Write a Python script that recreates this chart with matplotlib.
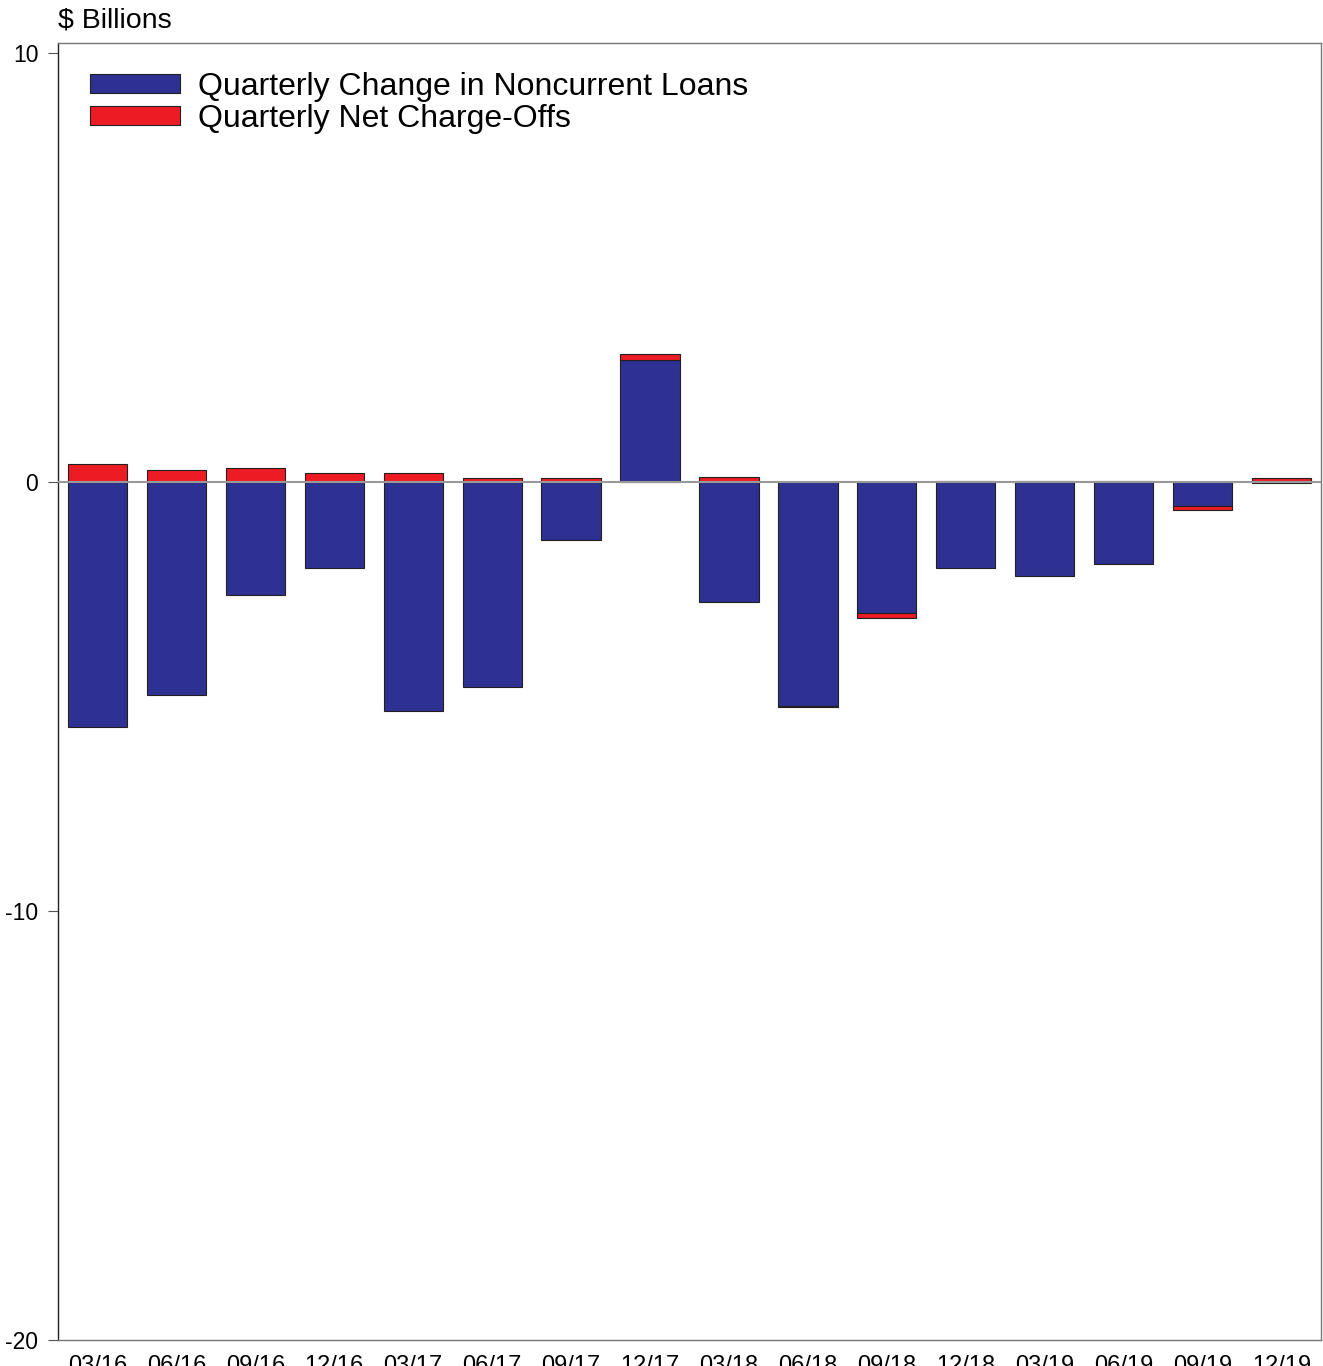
import numpy as np
import matplotlib

matplotlib.use("Agg")
import matplotlib.pyplot as plt

plt.rcParams["font.family"] = ["Liberation Sans", "DejaVu Sans"]

quarters = ["03/16", "06/16", "09/16", "12/16", "03/17", "06/17", "09/17", "12/17",
            "03/18", "06/18", "09/18", "12/18", "03/19", "06/19", "09/19", "12/19"]
noncurrent_change = [-5.71, -4.97, -2.63, -2.00, -5.34, -4.78, -1.35, 2.84,
                     -2.80, -5.22, -3.05, -2.00, -2.19, -1.91, -0.57, -0.03]
net_chargeoffs = [0.42, 0.28, 0.33, 0.21, 0.21, 0.09, 0.08, 0.14,
                  0.12, -0.03, -0.12, 0.03, 0.03, 0.01, -0.09, 0.08]
y_ticks = [-20, -10, 0, 10]

BLUE = "#2E3192"
RED = "#ED1C24"
EDGE = "#231F20"

W, H = 1323, 1366
fig = plt.figure(figsize=(W / 100, H / 100), dpi=100)
ax = fig.add_axes([58 / W, 26 / H, (1321 - 58) / W, (1340 - 43) / H])

x = np.arange(len(quarters))
blue = np.array(noncurrent_change)
red = np.array(net_chargeoffs)
# red stacks onto the blue bar when both share a sign, otherwise starts at zero
red_bottom = np.where(np.sign(red) == np.sign(blue), blue, 0.0)

ax.bar(x, blue, width=0.75, color=BLUE, edgecolor=EDGE, linewidth=0.8,
       label="Quarterly Change in Noncurrent Loans", zorder=2)
ax.bar(x, red, width=0.75, bottom=red_bottom, color=RED, edgecolor=EDGE, linewidth=0.8,
       label="Quarterly Net Charge-Offs", zorder=2)
ax.axhline(0, color="#999999", lw=1.5, zorder=3)

ax.set_xlim(-0.5, 15.5)
ax.set_ylim(-20, 10.23)
ax.set_yticks(y_ticks)
ax.set_yticklabels([str(v) for v in y_ticks])
ax.set_xticks(x)
ax.set_xticklabels(quarters)
ax.tick_params(axis="y", length=7.2, width=0.8, color="#555555", pad=7, labelsize=16.5)
ax.tick_params(axis="x", length=0, pad=11, labelsize=17)

for side in ["top", "right", "bottom"]:
    ax.spines[side].set_color("#777777")
    ax.spines[side].set_linewidth(1.0)
ax.spines["left"].set_color("#222222")
ax.spines["left"].set_linewidth(1.0)

leg = ax.legend(loc="upper left", bbox_to_anchor=(32 / 1263, 1 - 29 / 1297),
                frameon=False, fontsize=23, handlelength=2.82, handleheight=0.53,
                handletextpad=0.56, labelspacing=0.06, borderpad=0, borderaxespad=0)

fig.text(58 / W, 1 - 28 / H, "$ Billions", fontsize=20.5, ha="left", va="baseline")

fig.savefig("out.png", dpi=100)
